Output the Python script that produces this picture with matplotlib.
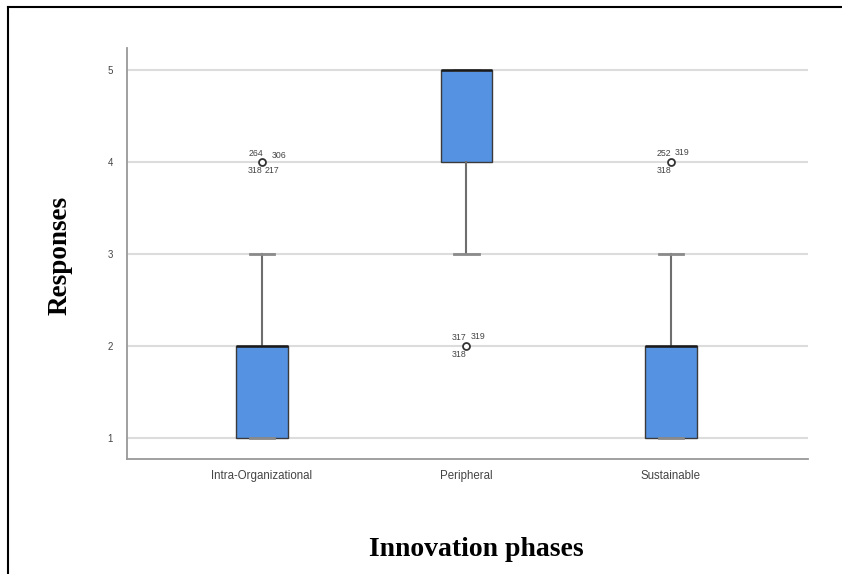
import matplotlib.pyplot as plt
from matplotlib.lines import Line2D

# Box statistics per innovation phase
phases = ['Intra-Organizational', 'Peripheral', 'Sustainable']
q1 = [1, 4, 1]
medians = [2, 5, 2]
q3 = [2, 5, 2]
whisker_low = [1, 3, 1]
whisker_high = [3, 5, 3]
outlier_values = [4, 2, 4]
# case numbers printed next to each outlier: (label, dx, dy) offsets in points
outlier_cases = [
    [('264', -4, 6), ('306', 12, 4.5), ('318', -5, -6), ('217', 7, -6)],
    [('317', -5, 6), ('319', 8, 7), ('318', -5, -6)],
    [('252', -5, 6), ('319', 8, 7), ('318', -5, -6)],
]

BOX_COLOR = '#5592e2'

fig = plt.figure(figsize=(8.42, 5.74), dpi=100)
ax = fig.add_axes([127 / 842, 1 - 459 / 574, (808 - 127) / 842, (459 - 48) / 574])

stats = []
for i, name in enumerate(phases):
    stats.append({
        'label': name,
        'q1': q1[i], 'med': medians[i], 'q3': q3[i],
        'whislo': whisker_low[i], 'whishi': whisker_high[i],
        'fliers': [outlier_values[i]],
    })

positions = [1, 2, 3]
ax.bxp(stats, positions=positions, widths=0.25, patch_artist=True,
       capwidths=0.12,
       boxprops=dict(facecolor=BOX_COLOR, edgecolor='#3a3a3a', linewidth=1.0),
       medianprops=dict(color='#1a1a1a', linewidth=1.8),
       whiskerprops=dict(color='#6e6e6e', linewidth=1.5),
       capprops=dict(color='#8a8a8a', linewidth=2.0),
       flierprops=dict(marker='o', markersize=5, markerfacecolor='white',
                       markeredgecolor='#333333', markeredgewidth=1.3),
       zorder=3)

# outlier case labels
for pos, val, cases in zip(positions, outlier_values, outlier_cases):
    for text, dx, dy in cases:
        ax.annotate(text, (pos, val), xytext=(dx, dy), textcoords='offset points',
                    ha='center', va='center', fontsize=6.3, color='#444444',
                    family='Liberation Sans')

ax.set_xlim(0.34, 3.67)
ax.set_ylim(0.77, 5.24)
ax.set_yticks([1, 2, 3, 4, 5])
ax.yaxis.grid(True, color='#dcdcdc', linewidth=1.5, zorder=0)
ax.set_axisbelow(True)

for side in ['top', 'right']:
    ax.spines[side].set_visible(False)
for side in ['left', 'bottom']:
    ax.spines[side].set_color('#999999')
    ax.spines[side].set_linewidth(1.3)

ax.tick_params(axis='both', length=0, labelcolor='#444444')
ax.tick_params(axis='x', pad=8, labelsize=8.3)
ax.tick_params(axis='y', pad=10, labelsize=7)
for lbl in ax.get_xticklabels() + ax.get_yticklabels():
    lbl.set_family('Liberation Sans')

fig.text(60 / 842, 1 - 255 / 574, 'Responses', rotation=90, ha='center', va='center',
         fontsize=19.5, fontweight='bold', family='Liberation Serif')
fig.text(476 / 842, 1 - 550 / 574, 'Innovation phases', ha='center', va='center',
         fontsize=20, fontweight='bold', family='Liberation Serif')

# outer frame (top and left edges)
fig.add_artist(Line2D([8 / 842, 1.0], [1 - 7 / 574, 1 - 7 / 574],
                      transform=fig.transFigure, color='black', linewidth=1.5))
fig.add_artist(Line2D([8 / 842, 8 / 842], [0, 1 - 7 / 574],
                      transform=fig.transFigure, color='black', linewidth=1.5))

fig.savefig('out.png', dpi=100)
